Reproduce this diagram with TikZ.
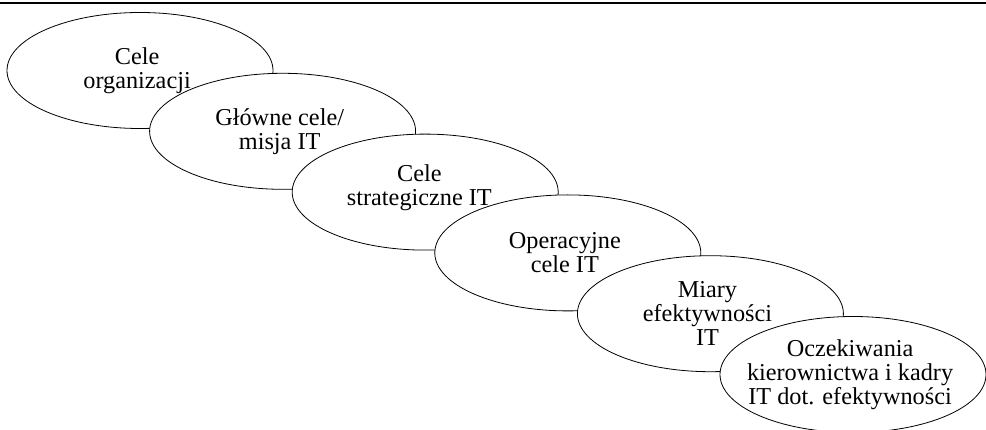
\documentclass[tikz,border=0pt]{standalone}
\usepackage{fontspec}
\setmainfont{Liberation Serif}
\usetikzlibrary{positioning}
\usetikzlibrary{shapes.geometric}

\newcommand{\ovalfont}{\Huge\baselineskip=24.6pt}

\tikzset{
	oval/.style={ellipse, draw, line width=.8pt, fill=white, minimum width=266pt, minimum height=116pt, inner sep=0pt},
	txt/.style={align=center, inner sep=0pt, font=\ovalfont, scale=.975, xshift=-3pt}
}

\begin{document}
\begin{tikzpicture}
		\useasboundingbox (0pt,0pt) rectangle (986pt,-430pt);
		\draw[line width=2pt] (0pt,-3pt) -- (986pt,-3pt);
		
		\node[oval, label={[txt]center:{Cele\\organizacji}}] (A) at (140pt,-70.5pt) {};
		\node[oval, on grid, below right = 60.8pt and 142.6pt of A, label={[txt]center:{Główne cele/\\misja IT}}] (B) {};
		\node[oval, on grid, below right = 60.8pt and 142.6pt of B, label={[txt, xshift=-3pt, yshift=5pt]center:{Cele\\strategiczne IT}}] (C) {};
		\node[oval, on grid, below right = 60.8pt and 142.6pt of C, label={[txt]center:{Operacyjne\\cele IT}}] (D) {};
		\node[oval, on grid, below right = 60.8pt and 142.6pt of D, label={[txt]center:{Miary\\efektywności\\IT}}] (E) {};
		\node[oval, on grid, below right = 60.8pt and 142.6pt of E, label={[txt]center:{Oczekiwania\\kierownictwa i kadry\\IT dot. efektywności}}] (F) {};
	\end{tikzpicture}
\end{document}
